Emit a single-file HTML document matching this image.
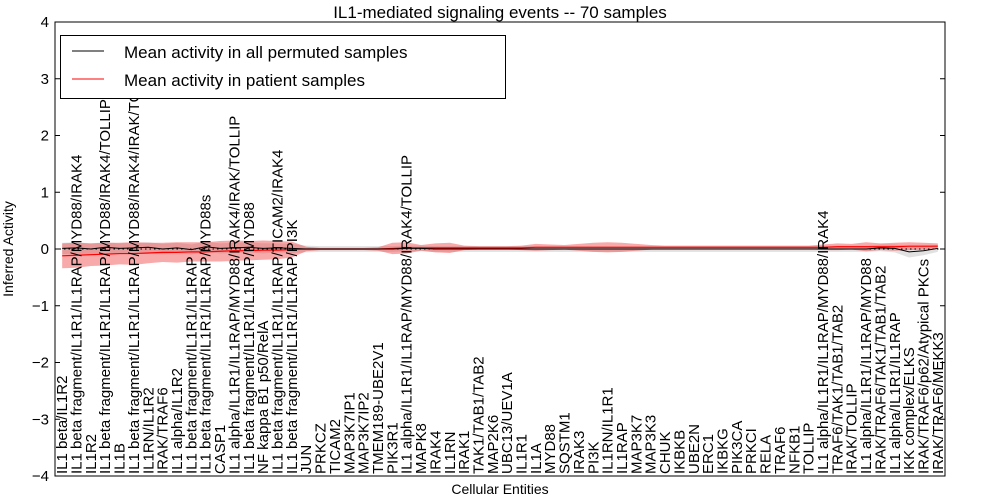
<!DOCTYPE html>
<html><head><meta charset="utf-8"><style>
body{margin:0;background:#fff;}
svg{display:block;font-family:"Liberation Sans","DejaVu Sans",sans-serif;}
</style></head><body>
<svg id="chart" width="1000" height="500" xmlns="http://www.w3.org/2000/svg">
<text x="500" y="18" font-size="17" text-anchor="middle">IL1-mediated signaling events -- 70 samples</text>
<text transform="translate(13,249) rotate(-90)" font-size="14" text-anchor="middle">Inferred Activity</text>
<text x="500" y="494" font-size="14" text-anchor="middle">Cellular Entities</text>
<g id="plot"></g>
</svg>
<script>
const categories=["IL1 beta/IL1R2","IL1 beta fragment/IL1R1/IL1RAP/MYD88/IRAK4","IL1R2","IL1 beta fragment/IL1R1/IL1RAP/MYD88/IRAK4/TOLLIP","IL1B","IL1 beta fragment/IL1R1/IL1RAP/MYD88/IRAK4/IRAK/TOLLIP","IL1RN/IL1R2","IRAK/TRAF6","IL1 alpha/IL1R2","IL1 beta fragment/IL1R1/IL1RAP","IL1 beta fragment/IL1R1/IL1RAP/MYD88s","CASP1","IL1 alpha/IL1R1/IL1RAP/MYD88/IRAK4/IRAK/TOLLIP","IL1 beta fragment/IL1R1/IL1RAP/MYD88","NF kappa B1 p50/RelA","IL1 beta fragment/IL1R1/IL1RAP/TICAM2/IRAK4","IL1 beta fragment/IL1R1/IL1RAP/PI3K","JUN","PRKCZ","TICAM2","MAP3K7IP1","MAP3K7IP2","TMEM189-UBE2V1","PIK3R1","IL1 alpha/IL1R1/IL1RAP/MYD88/IRAK4/TOLLIP","MAPK8","IRAK4","IL1RN","IRAK1","TAK1/TAB1/TAB2","MAP2K6","UBC13/UEV1A","IL1R1","IL1A","MYD88","SQSTM1","IRAK3","PI3K","IL1RN/IL1R1","IL1RAP","MAP3K7","MAP3K3","CHUK","IKBKB","UBE2N","ERC1","IKBKG","PIK3CA","PRKCI","RELA","TRAF6","NFKB1","TOLLIP","IL1 alpha/IL1R1/IL1RAP/MYD88/IRAK4","TRAF6/TAK1/TAB1/TAB2","IRAK/TOLLIP","IL1 alpha/IL1R1/IL1RAP/MYD88","IRAK/TRAF6/TAK1/TAB1/TAB2","IL1 alpha/IL1R1/IL1RAP","IKK complex/ELKS","IRAK/TRAF6/p62/Atypical PKCs","IRAK/TRAF6/MEKK3"];
const patientMean=[-0.12,-0.11,-0.1,-0.09,-0.08,-0.08,-0.07,-0.06,-0.06,-0.05,-0.05,-0.04,-0.03,-0.03,-0.02,-0.02,-0.01,0,0,0,0,0,0,0.01,0.02,0.02,0.02,0.02,0.02,0.02,0.02,0.02,0.02,0.03,0.03,0.03,0.03,0.03,0.03,0.03,0.03,0.03,0.03,0.03,0.03,0.03,0.03,0.03,0.03,0.03,0.03,0.03,0.03,0.03,0.04,0.04,0.04,0.04,0.04,0.05,0.05,0.05];
const patientSpread=[0.22,0.22,0.2,0.2,0.19,0.2,0.18,0.17,0.18,0.17,0.17,0.18,0.18,0.17,0.17,0.16,0.14,0.04,0.02,0.02,0.02,0.02,0.03,0.1,0.1,0.05,0.08,0.09,0.04,0.03,0.03,0.03,0.04,0.06,0.05,0.04,0.06,0.08,0.09,0.08,0.06,0.04,0.03,0.03,0.03,0.03,0.03,0.03,0.03,0.03,0.03,0.03,0.03,0.05,0.06,0.05,0.08,0.06,0.07,0.07,0.06,0.05];
const permMean=[0.01,0.02,0,0.03,0.01,0.02,0.03,0,0.02,-0.01,0.04,0.01,0.02,0.03,0.01,0.02,0.01,0,0,0,0,0,0,0,0.01,0.01,0,0,0,0,0,0,0,0,0,0,0,0,0,0,0,0,0,0,0,0,0,0,0,0,0,0,0,0,0,0,0,0.02,0.01,-0.05,-0.03,0.01];
const permSpread=[0.1,0.1,0.1,0.09,0.09,0.09,0.09,0.09,0.09,0.09,0.09,0.09,0.09,0.09,0.09,0.08,0.08,0.06,0.05,0.05,0.05,0.05,0.05,0.05,0.05,0.05,0.05,0.05,0.05,0.05,0.05,0.05,0.05,0.05,0.05,0.05,0.05,0.05,0.05,0.05,0.05,0.05,0.05,0.05,0.05,0.05,0.05,0.05,0.05,0.05,0.05,0.05,0.05,0.05,0.05,0.05,0.05,0.06,0.07,0.1,0.08,0.06];
const yTicks=[-4,-3,-2,-1,0,1,2,3,4];
const L=55,R=945,T=22,B=476;
const n=categories.length;
const xs=i=>L+(i+0.5)*(R-L)/n;
const ys=v=>T+(4-v)*(B-T)/8;
const NS="http://www.w3.org/2000/svg";
const g=document.getElementById('plot');
function mk(tag,attrs){const e=document.createElementNS(NS,tag);for(const k in attrs)e.setAttribute(k,attrs[k]);g.appendChild(e);return e;}
function band(m,s){let up=m.map((v,i)=>xs(i)+','+ys(v+s[i]));let dn=m.map((v,i)=>xs(i)+','+ys(v-s[i])).reverse();return up.concat(dn).join(' ');}
let e;
e=mk('polygon',{points:band(permMean,permSpread),fill:'#c8c8c8','fill-opacity':'0.55',stroke:'none'});


e=mk('polygon',{points:band(patientMean,patientSpread),fill:'#f04040','fill-opacity':'0.45',stroke:'none'});


e=mk('line',{x1:L,x2:R,y1:ys(0),y2:ys(0),stroke:'#000','stroke-dasharray':'1.5,3','stroke-width':1});


e=mk('polyline',{points:patientMean.map((v,i)=>xs(i)+','+ys(v)).join(' '),fill:'none',stroke:'#ff0000','stroke-width':1.2});


e=mk('polyline',{points:permMean.map((v,i)=>xs(i)+','+ys(v)).join(' '),fill:'none',stroke:'#000','stroke-width':1});


yTicks.forEach(t=>{
 const y=ys(t);
 let a=mk('line',{x1:L,x2:L+5,y1:y,y2:y,stroke:'#000'});
 
 
 a=mk('line',{x1:R-5,x2:R,y1:y,y2:y,stroke:'#000'});
 
 
 a=mk('text',{x:L-6,y:y+5,'font-size':15,'text-anchor':'end'});
 a.textContent=(t<0?'\u2212'+(-t):t);
 
 
});
categories.forEach((c,i)=>{
 const x=xs(i);
 let a=mk('text',{transform:`translate(${x+5},${B-2}) rotate(-90)`,'font-size':15});
 a.textContent=c;
 
 
});
e=mk('rect',{x:L,y:T,width:R-L,height:B-T,fill:'none',stroke:'#000','stroke-width':1});


e=mk('rect',{x:60.5,y:35.5,width:445,height:63,fill:'#fff',stroke:'#000'});


e=mk('line',{x1:72,x2:104,y1:51,y2:51,stroke:'#000'});


e=mk('text',{x:124,y:58,'font-size':17});
e.textContent='Mean activity in all permuted samples';


e=mk('line',{x1:72,x2:104,y1:79,y2:79,stroke:'#ff0000'});


e=mk('text',{x:124,y:86,'font-size':17});
e.textContent='Mean activity in patient samples';


</script>
</body></html>
